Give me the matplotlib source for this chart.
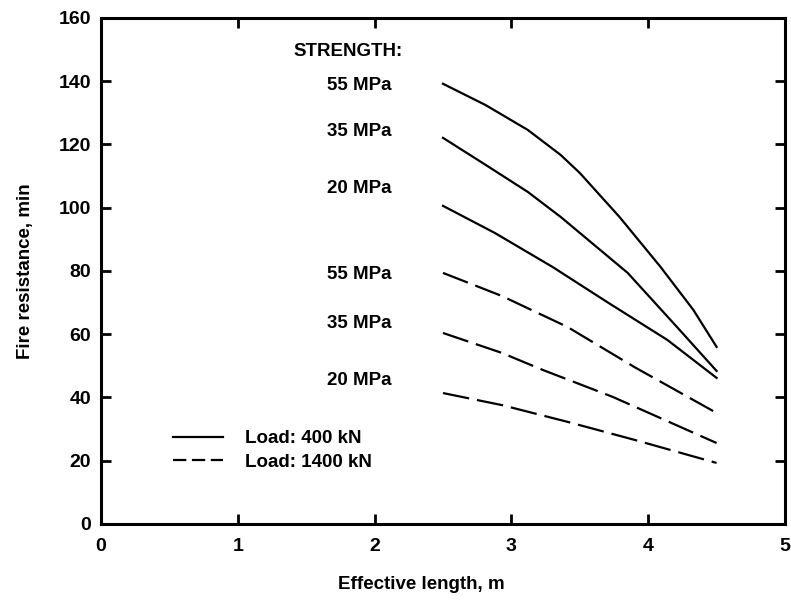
import matplotlib.pyplot as plt

plt.rcParams['font.family'] = ['Liberation Sans', 'DejaVu Sans']
plt.rcParams['font.weight'] = 'bold'

# effective length (m) and fire resistance (min), load 400 kN
x400_55 = [2.5, 2.81, 3.12, 3.36, 3.50, 3.79, 4.09, 4.33, 4.5]
r400_55 = [139.2, 132.5, 124.6, 116.7, 111.0, 97.1, 81.3, 67.7, 56.0]
x400_35 = [2.5, 2.81, 3.12, 3.36, 3.85, 4.21, 4.5]
r400_35 = [122.1, 113.6, 105.0, 97.1, 79.4, 62.3, 48.4]
x400_20 = [2.5, 2.88, 3.30, 3.71, 4.14, 4.5]
r400_20 = [100.6, 92.0, 81.3, 69.9, 58.2, 46.2]

# load 1400 kN
x1400 = [2.5, 2.93, 3.41, 3.90, 4.5]
r1400_55 = [79.4, 72.1, 62.3, 49.6, 35.1]
x1400_35 = [2.5, 2.93, 3.23, 3.74, 4.5]
r1400_35 = [60.4, 54.1, 48.7, 40.2, 25.6]
r1400_20 = [41.4, 37.6, 32.3, 26.6, 19.3]

strength_labels = ["55 MPa", "35 MPa", "20 MPa", "55 MPa", "35 MPa", "20 MPa"]
label_y = [138.5, 124.0, 106.0, 79.0, 63.5, 45.5]

fig = plt.figure(figsize=(7.91, 6.02), dpi=100)
ax = fig.add_axes([0.1277, 0.1296, 0.8647, 0.8405])

lw = 1.6
dash = (12, 3.6)
l1, = ax.plot(x400_55, r400_55, color='black', lw=lw, label="Load: 400 kN")
ax.plot(x400_35, r400_35, color='black', lw=lw)
ax.plot(x400_20, r400_20, color='black', lw=lw)
l2, = ax.plot(x1400, r1400_55, color='black', lw=lw, dashes=dash, label="Load: 1400 kN")
ax.plot(x1400_35, r1400_35, color='black', lw=lw, dashes=dash)
ax.plot(x1400, r1400_20, color='black', lw=lw, dashes=dash)

fs = 13.5
ax.text(1.41, 149.5, "STRENGTH:", fontsize=fs, ha='left', va='center')
for lab, yy in zip(strength_labels, label_y):
    ax.text(2.12, yy, lab, fontsize=fs, ha='right', va='center')

leg = ax.legend(handles=[l1, l2], loc='center left', bbox_to_anchor=(0.105, 0.145),
                frameon=False, fontsize=fs, handlelength=2.67, labelspacing=0.35,
                handletextpad=1.17, borderpad=0, borderaxespad=0)
leg.get_lines()[1].set_dashes((6, 2.5))

ax.set_xlim(0, 5)
ax.set_ylim(0, 160)
ax.set_xticks([0, 1, 2, 3, 4, 5])
ax.set_yticks(range(0, 161, 20))
ax.tick_params(direction='in', length=7, width=2, labelsize=14,
               top=True, right=True)
ax.tick_params(axis='y', pad=7)
ax.tick_params(axis='x', pad=10)
for s in ax.spines.values():
    s.set_linewidth(2.2)

ax.set_xlabel("Effective length, m", fontsize=fs, fontweight='bold')
ax.set_ylabel("Fire resistance, min", fontsize=fs, fontweight='bold')
ax.xaxis.set_label_coords(0.469, -0.103)
ax.yaxis.set_label_coords(-0.098, 0.5)

fig.savefig("out.png", dpi=100)
